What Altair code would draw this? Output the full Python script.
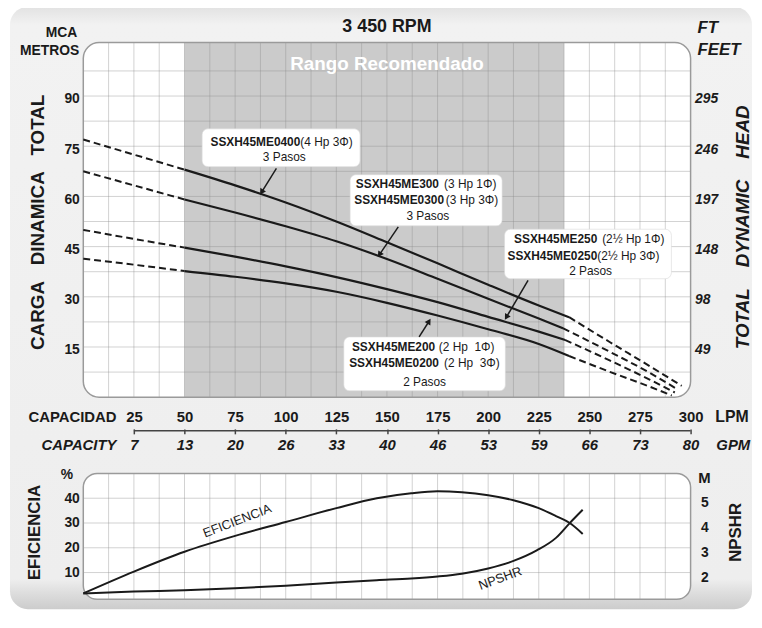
import altair as alt
import pandas as pd

# ---------------- data ----------------
lpm_ticks = [25, 50, 75, 100, 125, 150, 175, 200, 225, 250, 275, 300]
gpm_labels = ["7", "13", "20", "26", "33", "40", "46", "53", "59", "66", "73", "80"]
head_m_ticks = [15, 30, 45, 60, 75, 90]
head_ft_labels = ["49", "98", "148", "197", "246", "295"]
eff_ticks = [10, 20, 30, 40]
npshr_ticks = [2, 3, 4, 5]
recommended_range = [50, 237.5]

curve_models = ["SSXH45ME0400", "SSXH45ME0300", "SSXH45ME0250", "SSXH45ME0200"]
curve_q = [
    [0, 25, 50, 75, 100, 125, 150, 175, 200, 225, 240, 260, 280, 295.6],
    [0, 25, 50, 75, 100, 125, 150, 175, 200, 225, 237, 260, 280, 293.6],
    [0, 25, 50, 75, 100, 125, 150, 175, 200, 225, 238, 260, 280, 292.2],
    [0, 25, 50, 75, 100, 125, 150, 175, 200, 225, 240, 260, 280, 290.7],
]
curve_h = [
    [77.0, 72.5, 68.0, 63.3, 58.2, 52.5, 46.3, 40.0, 33.6, 27.4, 23.9, 16.5, 9.2, 3.4],
    [67.5, 63.3, 59.1, 55.2, 51.1, 46.6, 41.3, 35.4, 29.4, 23.5, 20.6, 13.6, 7.2, 2.3],
    [50.0, 47.3, 44.7, 42.0, 39.1, 35.9, 32.3, 28.4, 24.0, 19.6, 17.1, 11.0, 5.2, 1.4],
    [41.4, 39.6, 37.7, 36.0, 34.0, 31.5, 28.2, 24.4, 20.3, 15.9, 12.3, 7.6, 3.1, 0.5],
]
curve_solid = [[50, 240], [50, 237], [50, 238], [50, 240]]

eff_q = [0, 25, 50, 75, 100, 125, 145, 162, 175, 187, 200, 212.5, 225, 233.5, 240.3, 246.7]
eff_pct = [1.6, 10.4, 18.4, 24.8, 30.4, 36.0, 40.0, 42.0, 42.8, 42.4, 41.2, 39.2, 36.0, 32.8, 30.0, 25.6]
npshr_q = [0, 25, 50, 75, 100, 125, 145, 162, 175, 187, 200, 212.5, 224, 233.5, 240.3, 246.7]
npshr_m = [1.36, 1.44, 1.49, 1.57, 1.67, 1.80, 1.89, 1.96, 2.04, 2.15, 2.36, 2.66, 3.08, 3.58, 4.17, 4.70]

# ---------------- annotations ----------------
label_boxes = pd.DataFrame({
    "q0": [58.7, 131.8, 208.1, 128.7], "q1": [136.7, 206.9, 290.5, 208.5],
    "v0": [68.9, 51.2, 35.4, 1.9], "v1": [80.2, 66.5, 50.2, 18.0]})
bold_parts = pd.DataFrame({
    "t": ["SSXH45ME0400", "SSXH45ME300", "SSXH45ME0300", "SSXH45ME250", "SSXH45ME0250",
          "SSXH45ME200", "SSXH45ME0200"],
    "q": [107.2, 175.7, 178.2, 253.9, 253.9, 173.8, 175.7],
    "v": [76.4, 63.6, 58.9, 47.3, 42.3, 15.0, 10.3]})
normal_parts = pd.DataFrame({
    "t": ["(4 Hp 3Φ)", "(3 Hp 1Φ)", "(3 Hp 3Φ)", "(2½ Hp 1Φ)", "(2½ Hp 3Φ)",
          "(2 Hp\u00a0\u00a01Φ)", "(2 Hp\u00a0\u00a03Φ)"],
    "q": [107.2, 178.2, 179.1, 256.3, 253.9, 175.6, 178.2],
    "v": [76.4, 63.6, 58.9, 47.3, 42.3, 15.0, 10.3]})
center_parts = pd.DataFrame({
    "t": ["3 Pasos", "3 Pasos", "2 Pasos", "2 Pasos"],
    "q": [99.3, 170.2, 250.6, 168.6],
    "v": [71.9, 54.1, 37.8, 4.6]})
arrows = pd.DataFrame({
    "q0": [95.4, 155.6, 219.7, 165.9], "v0": [68.4, 50.9, 34.9, 18.0],
    "q1": [88.1, 146.3, 209.0, 170.8], "v1": [61.3, 42.6, 23.9, 22.7],
    "ang": [212, 214, 211, 32]})

# ---------------- frames ----------------
rows = []
for name, qs, hs, (s0, s1) in zip(curve_models, curve_q, curve_h, curve_solid):
    for q, h in zip(qs, hs):
        if q <= s0:
            rows.append({"id": name + "L", "dash": True, "q": q, "h": h})
        if s0 <= q <= s1:
            rows.append({"id": name + "S", "dash": False, "q": q, "h": h})
        if q >= s1:
            rows.append({"id": name + "R", "dash": True, "q": q, "h": h})
curves = pd.DataFrame(rows)
solid_df = curves[~curves["dash"]]
dash_df = curves[curves["dash"]]
eff_df = pd.DataFrame({"q": eff_q, "e": eff_pct})
np_df = pd.DataFrame({"q": npshr_q, "m": npshr_m})

TOP_MAX = 106
EFF_MIN, EFF_MAX = -0.8, 50
q_grid = [12.5 * i for i in range(1, 24)]
top_box = pd.DataFrame({"q0": [0], "q1": [300], "v0": [0], "v1": [TOP_MAX]})
bot_box = pd.DataFrame({"q0": [0], "q1": [300], "v0": [EFF_MIN], "v1": [EFF_MAX]})
shade = pd.DataFrame({"q0": [recommended_range[0]], "q1": [recommended_range[1]], "v0": [0], "v1": [TOP_MAX]})
vgrid_top = pd.DataFrame({"q": q_grid, "v0": 0, "v1": TOP_MAX})
hgrid_top = pd.DataFrame({"v": [7.5 * i for i in range(1, 14)], "q0": 0, "q1": 300})
vgrid_bot = pd.DataFrame({"q": q_grid, "v0": EFF_MIN, "v1": EFF_MAX})
hgrid_bot = pd.DataFrame({"v": eff_ticks, "q0": 0, "q1": 300})
gpm_line = pd.DataFrame({"q0": [lpm_ticks[0]], "q1": [lpm_ticks[-1]]})
one = pd.DataFrame({"a": [0]})

# ---------------- styling ----------------
FONT = "Liberation Sans"
INK = "#1a1a1a"
NB3 = "\u00a0\u00a0\u00a0"
NB4 = "\u00a0\u00a0\u00a0\u00a0"
W, H, TOP_H = 613, 562, 358
xs = alt.Scale(domain=[0, 300], nice=False, zero=False)
ys_top = alt.Scale(domain=[0, TOP_MAX], range=[TOP_H, 0], nice=False, zero=False)
ys_eff = alt.Scale(domain=[EFF_MIN, EFF_MAX], range=[H, 435], nice=False, zero=False)
ys_np = alt.Scale(domain=[1.13, 6.15], range=[H, 435], nice=False, zero=False)


def lbl_expr(vals, labels):
    return "[" + ",".join("'%s'" % s for s in labels) + "][indexof([" + ",".join(str(v) for v in vals) + "], datum.value)]"


common_y = dict(grid=False, ticks=False, domain=False, labelFont=FONT, labelFontSize=14,
                labelFontWeight="bold", labelColor=INK, titleFont=FONT, titleFontWeight="bold",
                titleColor=INK, titleAngle=270, titleAlign="center", titleBaseline="middle", zindex=1)
ax_m = alt.Axis(orient="left", values=head_m_ticks, labelPadding=4, labelOffset=3,
                title="CARGA" + NB3 + "DINAMICA" + NB3 + "TOTAL", titleFontSize=19,
                titleX=-46, titleY=181, **common_y)
ax_ft = alt.Axis(orient="right", values=head_m_ticks, labelExpr=lbl_expr(head_m_ticks, head_ft_labels),
                 labelPadding=4, labelOffset=3, labelFontStyle="italic",
                 title="TOTAL" + NB4 + "DYNAMIC" + NB4 + "HEAD", titleFontSize=19,
                 titleFontStyle="italic", titleX=52, titleY=186, **common_y)
ax_eff = alt.Axis(orient="left", values=eff_ticks, labelPadding=4, title="EFICIENCIA",
                  titleFontSize=17, titleX=-49, titleY=494, **common_y)
ax_np = alt.Axis(orient="right", values=npshr_ticks, labelPadding=10, title="NPSHR",
                 titleFontSize=17, titleX=45, titleY=494, **common_y)
ax_lpm = alt.Axis(orient="bottom", values=lpm_ticks, offset=-191, grid=False, ticks=False, tickSize=0,
                  domain=False, labelPadding=0, labelFlush=False, labelOverlap=False, format="d",
                  labelFont=FONT, labelFontSize=15, labelFontWeight="bold", labelColor=INK,
                  labelBaseline="top", title="CAPACIDAD", titleX=33, titleY=0, titleAlign="right",
                  titleBaseline="top", titleAngle=0, titleFont=FONT, titleFontSize=15,
                  titleFontWeight="bold", titleColor=INK, zindex=1)
ax_gpm = alt.Axis(orient="bottom", values=lpm_ticks, offset=-172, grid=False, ticks=True, tickSize=5,
                  tickWidth=1.5, tickColor="#444444", domain=False, labelPadding=4, labelFlush=False,
                  labelOverlap=False, labelExpr=lbl_expr(lpm_ticks, gpm_labels),
                  labelFont=FONT, labelFontSize=15, labelFontWeight="bold", labelFontStyle="italic",
                  labelColor=INK, labelBaseline="top", title="CAPACITY", titleX=33, titleY=9,
                  titleAlign="right", titleBaseline="top", titleAngle=0, titleFont=FONT,
                  titleFontSize=15, titleFontWeight="bold", titleFontStyle="italic",
                  titleColor=INK, zindex=1)


def X(f, axis=None):
    return alt.X(f, type="quantitative", scale=xs, axis=axis)


def Y(f, scale, axis=None):
    return alt.Y(f, type="quantitative", scale=scale, axis=axis)


def box(df, scale, yaxis=None, **kw):
    return alt.Chart(df).mark_rect(**kw).encode(x=X("q0"), x2="q1", y=Y("v0", scale, yaxis), y2="v1")


def ptext(t, x, y, size, style="normal", align="left", weight="bold"):
    return alt.Chart(one).mark_text(text=t, font=FONT, fontSize=size, fontWeight=weight,
                                    fontStyle=style, align=align, baseline="middle",
                                    color=INK).encode(x=alt.value(x), y=alt.value(y))


grad = {"gradient": "linear", "x1": 0, "x2": 0, "y1": 0, "y2": 1,
        "stops": [{"offset": 0, "color": "#e2e2e2"}, {"offset": 0.03, "color": "#f2f2f2"},
                  {"offset": 0.95, "color": "#eeeeee"}, {"offset": 0.975, "color": "#dcdcdc"},
                  {"offset": 1, "color": "#cccccc"}]}
bg = alt.Chart(one).mark_rect(cornerRadius=18, fill=grad).encode(
    x=alt.value(-74), x2=alt.value(W + 62), y=alt.value(-36), y2=alt.value(H + 10))

GRID = dict(color="#8c8c8c", opacity=0.4, strokeWidth=1)

layers = [
    bg,
    box(top_box, ys_top, fill="white", cornerRadius=16),
    box(bot_box, ys_eff, fill="white", cornerRadius=14),
    box(shade, ys_top, fill="#cbcbcb"),
    alt.Chart(vgrid_top).mark_rule(**GRID).encode(x=X("q", ax_lpm), y=Y("v0", ys_top), y2="v1"),
    alt.Chart(hgrid_top).mark_rule(**GRID).encode(y=Y("v", ys_top, ax_m), x=X("q0"), x2="q1"),
    alt.Chart(vgrid_bot).mark_rule(**GRID).encode(x=X("q"), y=Y("v0", ys_eff), y2="v1"),
    alt.Chart(hgrid_bot).mark_rule(**GRID).encode(y=Y("v", ys_eff, ax_eff), x=X("q0"), x2="q1"),
    box(top_box, ys_top, ax_ft, filled=False, stroke="#9a9a9a", strokeWidth=1.5, cornerRadius=16),
    box(bot_box, ys_eff, filled=False, stroke="#9a9a9a", strokeWidth=1.5, cornerRadius=14),
    alt.Chart(gpm_line).mark_rule(color="#444444", strokeWidth=1.5).encode(
        x=X("q0", ax_gpm), x2="q1", y=alt.value(392)),
    alt.Chart(solid_df).mark_line(color=INK, strokeWidth=2.2, interpolate="monotone").encode(
        x=X("q"), y=Y("h", ys_top), detail="id:N"),
    alt.Chart(dash_df).mark_line(color=INK, strokeWidth=2, strokeDash=[7, 4], interpolate="monotone").encode(
        x=X("q"), y=Y("h", ys_top), detail="id:N"),
    alt.Chart(eff_df).mark_line(color=INK, strokeWidth=2, interpolate="monotone").encode(
        x=X("q"), y=Y("e", ys_eff)),
    alt.Chart(np_df).mark_line(color=INK, strokeWidth=2, interpolate="monotone").encode(
        x=X("q"), y=Y("m", ys_np, ax_np)),
    box(label_boxes, ys_top, fill="white", stroke="#d8d8d8", strokeWidth=0.6, cornerRadius=6),
    alt.Chart(bold_parts).mark_text(font=FONT, fontSize=12, fontWeight="bold", align="right",
                                    baseline="middle", color=INK).encode(
        x=X("q"), y=Y("v", ys_top), text="t:N"),
    alt.Chart(normal_parts).mark_text(font=FONT, fontSize=12, align="left", baseline="middle",
                                      color=INK).encode(x=X("q"), y=Y("v", ys_top), text="t:N"),
    alt.Chart(center_parts).mark_text(font=FONT, fontSize=12, align="center", baseline="middle",
                                      color=INK).encode(x=X("q"), y=Y("v", ys_top), text="t:N"),
    alt.Chart(arrows).mark_rule(color=INK, strokeWidth=1.5).encode(
        x=X("q0"), x2="q1", y=Y("v0", ys_top), y2="v1"),
    alt.Chart(arrows).mark_point(shape="triangle-up", filled=True, size=45, color=INK, opacity=1).encode(
        x=X("q1"), y=Y("v1", ys_top), angle=alt.Angle("ang:Q", scale=None)),
    alt.Chart(pd.DataFrame({"t": ["Rango Recomendado"], "q": [150], "v": [99.5]})).mark_text(
        font=FONT, fontSize=19, fontWeight="bold", color="white", align="center", baseline="middle").encode(
        x=X("q"), y=Y("v", ys_top), text="t:N"),
    alt.Chart(pd.DataFrame({"t": ["EFICIENCIA"], "q": [76], "v": [30.8]})).mark_text(
        font=FONT, fontSize=13, angle=339, color=INK, align="center", baseline="middle").encode(
        x=X("q"), y=Y("v", ys_eff), text="t:N"),
    alt.Chart(pd.DataFrame({"t": ["NPSHR"], "q": [206], "v": [7.6]})).mark_text(
        font=FONT, fontSize=13, angle=340, color=INK, align="center", baseline="middle").encode(
        x=X("q"), y=Y("v", ys_eff), text="t:N"),
    ptext("3 450 RPM", 306.5, -15.5, 18, align="center"),
    ptext("MCA", -6, -10, 14, align="right"),
    ptext("METROS", -4, 8.5, 14, align="right"),
    ptext("FT", 620, -15, 17, style="italic"),
    ptext("FEET", 620, 7.5, 17, style="italic"),
    ptext("LPM", 638, 378.5, 16),
    ptext("GPM", 639, 406, 15, style="italic"),
    ptext("%", -16.5, 437, 14, align="center"),
    ptext("M", 627, 439.5, 15, align="center"),
]

chart = alt.layer(*layers).resolve_scale(y="independent").resolve_axis(
    x="independent", y="independent").properties(
    width=W, height=H, autosize=alt.AutoSizeParams(type="none"),
    padding={"left": 76, "top": 32, "right": 64, "bottom": 10},
    background="white").configure_view(stroke=None).configure(font=FONT)

chart.save("out.html", embed_options={"renderer": "svg", "actions": False})
